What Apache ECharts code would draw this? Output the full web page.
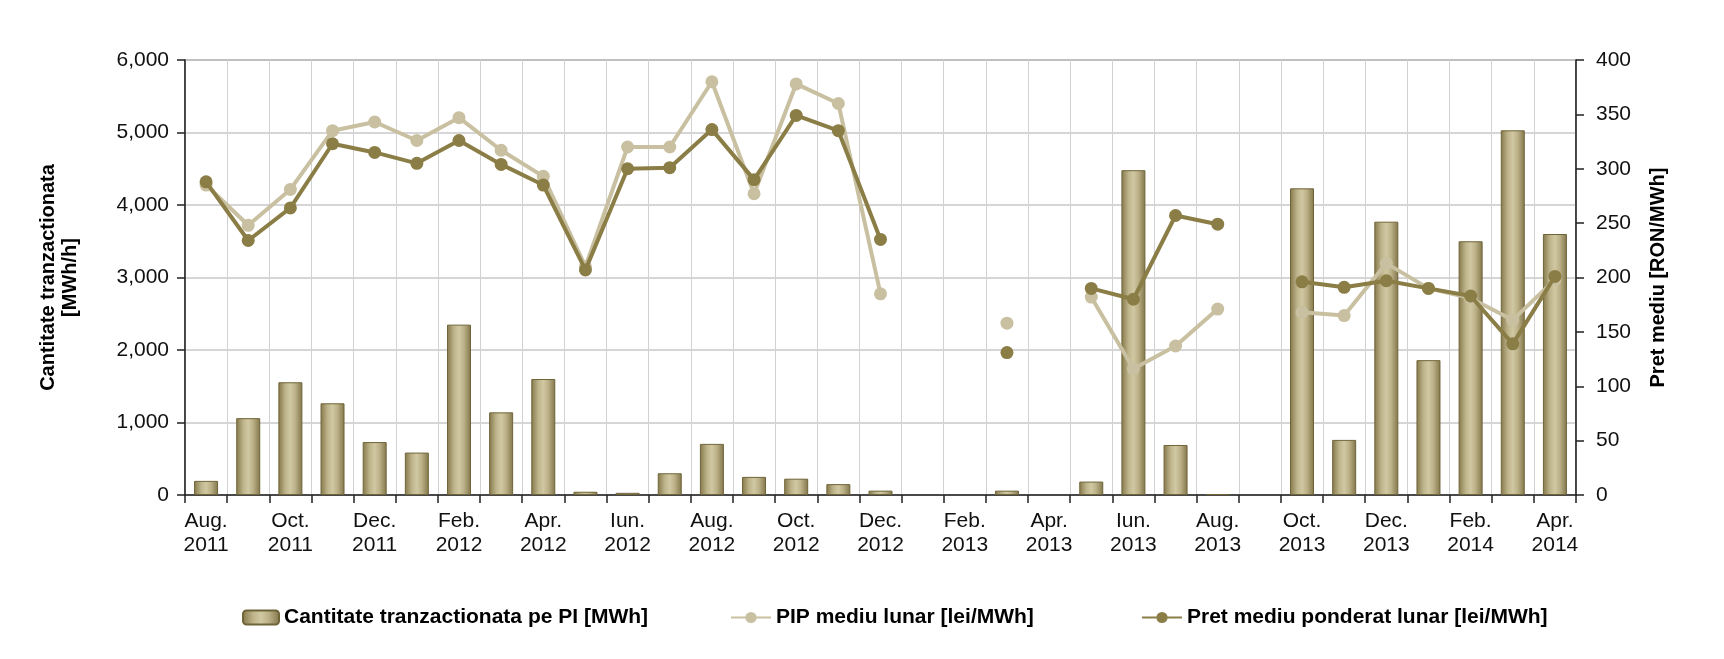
<!DOCTYPE html>
<html>
<head>
<meta charset="utf-8">
<script src="https://cdn.jsdelivr.net/npm/echarts@6/dist/echarts.min.js"></script>
<style>
html,body{margin:0;padding:0;background:#fff;}
#chart{width:1724px;height:659px;}
</style>
</head>
<body>
<div id="chart"></div>
<script>
const categories = ['Aug.\n2011','Sep.\n2011','Oct.\n2011','Noi.\n2011','Dec.\n2011',
  'Ian.\n2012','Feb.\n2012','Mar.\n2012','Apr.\n2012','Mai\n2012','Iun.\n2012','Iul.\n2012','Aug.\n2012','Sep.\n2012','Oct.\n2012','Noi.\n2012','Dec.\n2012',
  'Ian.\n2013','Feb.\n2013','Mar.\n2013','Apr.\n2013','Mai\n2013','Iun.\n2013','Iul.\n2013','Aug.\n2013','Sep.\n2013','Oct.\n2013','Noi.\n2013','Dec.\n2013',
  'Ian.\n2014','Feb.\n2014','Mar.\n2014','Apr.\n2014'];
const quantity = [195,1060,1555,1265,730,585,2350,1140,1600,45,30,300,705,250,225,150,60,null,null,60,null,185,4480,690,12,null,4230,760,3770,1860,3500,5030,3600];
const pip = [285,248,281,335,343,326,347,317,293,210,320,320,380,277,378,360,185,null,null,158,null,182,116,137,171,null,168,165,213,190,181,161,198];
const weighted = [288,234,264,323,315,305,326,304,285,207,300,301,336,290,349,335,235,null,null,131,null,190,180,257,249,null,196,191,197,190,183,139,201];
const seriesNames = ['Cantitate tranzactionata pe PI [MWh]','PIP mediu lunar [lei/MWh]','Pret mediu ponderat lunar [lei/MWh]'];
const leftAxisName = 'Cantitate tranzactionata\n[MWh/h]';
const rightAxisName = 'Pret mediu [RON/MWh]';

const FONT = '"Liberation Sans", Arial, sans-serif';
const barGrad = new echarts.graphic.LinearGradient(0,0,1,0,[
  {offset:0,color:'#84774a'},
  {offset:0.3,color:'#bfb58c'},
  {offset:0.5,color:'#d0c8a2'},
  {offset:0.7,color:'#bcb188'},
  {offset:1,color:'#82754a'}
]);
const chart = echarts.init(document.getElementById('chart'));
const legendText = {fontFamily:FONT,fontSize:21,fontWeight:'bold',color:'#000'};
chart.setOption({
  animation:false,
  backgroundColor:'#fff',
  textStyle:{fontFamily:FONT},
  grid:{left:185,right:148,top:60,bottom:164,show:true,borderColor:'#8a8a8a',borderWidth:1.5},
  legend:[
    {data:[seriesNames[0]],left:237,top:602,itemWidth:36,itemHeight:14,textStyle:legendText},
    {data:[seriesNames[1]],left:725,top:602,itemWidth:40,itemHeight:14,textStyle:legendText},
    {data:[seriesNames[2]],left:1136,top:602,itemWidth:40,itemHeight:14,textStyle:legendText}
  ],
  xAxis:{
    type:'category',data:categories,boundaryGap:true,
    axisLine:{lineStyle:{color:'#222',width:1.5}},
    axisTick:{show:true,interval:0,length:8,lineStyle:{color:'#222',width:1.5}},
    axisLabel:{interval:1,margin:14,fontSize:21,lineHeight:24,color:'#111',fontFamily:FONT},
    splitLine:{show:true,interval:0,lineStyle:{color:'#d2d2d2',width:1}}
  },
  yAxis:[
    {type:'value',min:0,max:6000,interval:1000,position:'left',
     name:leftAxisName,nameLocation:'middle',nameGap:104,
     nameTextStyle:{fontSize:20,fontWeight:'bold',color:'#000',lineHeight:22,fontFamily:FONT},
     axisLine:{show:true,lineStyle:{color:'#222',width:1.5}},
     axisTick:{show:true,length:8,lineStyle:{color:'#222',width:1.5}},
     axisLabel:{margin:16,fontSize:21,color:'#111',fontFamily:FONT,formatter:v=>v.toLocaleString('en-US')},
     splitLine:{show:true,lineStyle:{color:'#c8c8c8',width:1.5}}},
    {type:'value',min:0,max:400,interval:50,position:'right',
     name:rightAxisName,nameLocation:'middle',nameGap:72,
     nameTextStyle:{fontSize:20,fontWeight:'bold',color:'#000',fontFamily:FONT},
     axisLine:{show:true,lineStyle:{color:'#222',width:1.5}},
     axisTick:{show:true,length:8,lineStyle:{color:'#222',width:1.5}},
     axisLabel:{margin:20,fontSize:21,color:'#111',fontFamily:FONT},
     splitLine:{show:false}}
  ],
  series:[
    {name:seriesNames[0],type:'bar',yAxisIndex:0,data:quantity,barWidth:24,z:2,
     itemStyle:{color:barGrad,borderColor:'#6f6438',borderWidth:1}},
    {name:seriesNames[1],type:'line',yAxisIndex:1,data:pip,z:3,connectNulls:false,
     showSymbol:true,showAllSymbol:true,symbol:'circle',symbolSize:13,
     lineStyle:{color:'#c8c0a0',width:4},itemStyle:{color:'#c8c0a0'}},
    {name:seriesNames[2],type:'line',yAxisIndex:1,data:weighted,z:4,connectNulls:false,
     showSymbol:true,showAllSymbol:true,symbol:'circle',symbolSize:13,
     lineStyle:{color:'#8b7d46',width:4},itemStyle:{color:'#8b7d46'}}
  ]
});
</script>
</body>
</html>
